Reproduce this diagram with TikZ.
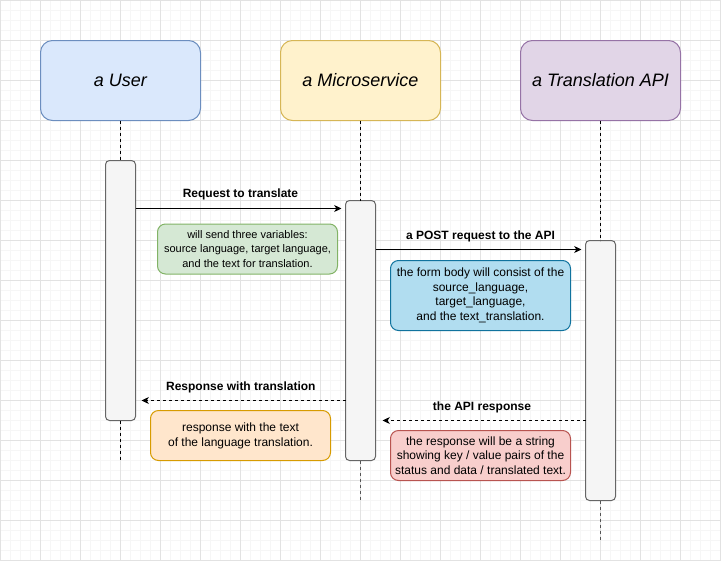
\documentclass[tikz,border=0pt]{standalone}
\usepackage{fontspec}
\setmainfont{Liberation Sans}
\usetikzlibrary{arrows.meta,calc}
\definecolor{gridminor}{HTML}{F6F6F6}
\definecolor{gridmajor}{HTML}{E2E2E2}
\definecolor{ufill}{HTML}{DAE8FC}\definecolor{uline}{HTML}{6C8EBF}
\definecolor{mfill}{HTML}{FFF2CC}\definecolor{mline}{HTML}{D6B656}
\definecolor{afill}{HTML}{E1D5E7}\definecolor{aline}{HTML}{9673A6}
\definecolor{actfill}{HTML}{F5F5F5}\definecolor{actline}{HTML}{666666}
\definecolor{gfill}{HTML}{D5E8D4}\definecolor{gline}{HTML}{82B366}
\definecolor{bfill}{HTML}{B1DDF0}\definecolor{bline}{HTML}{10739E}
\definecolor{ofill}{HTML}{FFE6CC}\definecolor{oline}{HTML}{D79B00}
\definecolor{rfill}{HTML}{F8CECC}\definecolor{rline}{HTML}{B85450}
\definecolor{lowlife}{HTML}{555555}
\tikzset{
  headbox/.style={draw, line width=0.75pt, rounded corners=9pt, minimum width=120pt, minimum height=60pt, inner sep=0pt, outer sep=0pt, font=\fontsize{13.5pt}{16pt}\selectfont\itshape},
  actbox/.style={draw=actline, fill=actfill, line width=0.75pt, rounded corners=3pt, minimum width=22.5pt, minimum height=195pt, inner sep=0pt, outer sep=0pt},
  notebox/.style={draw, line width=0.75pt, rounded corners=6pt, inner sep=0pt, outer sep=0pt, align=center, font=\fontsize{9pt}{10.9pt}\selectfont},
  life/.style={draw=black, line width=0.75pt, dash pattern=on 2.25pt off 2.25pt},
  lifelow/.style={draw=lowlife, line width=0.75pt, dash pattern=on 2.25pt off 2.25pt},
  msg/.style={line width=0.75pt, -{Stealth[length=5.5pt, width=5.2pt, inset=1.6pt]}},
  reply/.style={msg, dash pattern=on 2.25pt off 2.25pt},
  lbl/.style={font=\fontsize{9pt}{11pt}\selectfont\bfseries, inner sep=0pt}
}
\begin{document}
\begin{tikzpicture}[x=0.75pt, y=-0.75pt]
\useasboundingbox (0,0) rectangle (721,561);
\fill[white] (0,0) rectangle (721,561);
% grid
\foreach \i in {0,10,...,720} \draw[gridminor, line width=0.75pt] (\i+0.5,0) -- (\i+0.5,561);
\foreach \j in {0,10,...,560} \draw[gridminor, line width=0.75pt] (0,\j+0.5) -- (721,\j+0.5);
\foreach \i in {0,40,...,720} \draw[gridmajor, line width=0.75pt] (\i+0.5,0) -- (\i+0.5,561);
\foreach \j in {0,40,...,560} \draw[gridmajor, line width=0.75pt] (0,\j+0.5) -- (721,\j+0.5);

% participants
\node[headbox, fill=ufill, draw=uline] (user) at (120.5,80.5) {a User};
\node[headbox, fill=mfill, draw=mline] (ms) at (360.5,80.5) {a Microservice};
\node[headbox, fill=afill, draw=aline] (api) at (600.5,80.5) {a Translation API};

% activations
\node[actbox] (uact) at (120.5,290.5) {};
\node[actbox] (msact) at (360.5,330.5) {};
\node[actbox] (apiact) at (600.5,370.5) {};

\coordinate (uend) at (120.5,460);
\coordinate (msend) at (360.5,500);
\coordinate (apiend) at (600.5,540);

% lifelines
\draw[life] (user.south) -- (uact.north);
\draw[life] (uact.south) -- (uend);
\draw[life] (ms.south) -- (msact.north);
\draw[lifelow] (msact.south) -- (msend);
\draw[life] (api.south) -- (apiact.north);
\draw[lifelow] (apiact.south) -- (apiend);

% messages
\draw[msg] ($(uact.north east)+(0,48)$) -- node[lbl, yshift=10.25pt, xshift=1.5pt] (l1) {Request to translate} ($(msact.north west)+(-4,8)$);
\draw[msg] ($(msact.north east)+(0,49)$) -- node[lbl, yshift=9.5pt, xshift=1.5pt] (l2) {a POST request to the API} ($(apiact.north west)+(-4,9)$);
\draw[reply] ($(msact.north west)+(0,200)$) -- node[lbl, yshift=9.75pt, xshift=-2pt] (l3) {Response with translation} ($(uact.south east)+(6,-20)$);
\draw[reply] ($(apiact.north west)+(0,180)$) -- node[lbl, yshift=9.75pt, xshift=-1.5pt] (l4) {the API response} ($(msact.north east)+(7,220)$);

% notes
\node[notebox, fill=gfill, draw=gline, minimum width=135pt, minimum height=37.5pt, font=\fontsize{8.25pt}{11.1pt}\selectfont] (n1) at (247.5,249) {will send three variables:\\source language, target language,\\and the text for translation.};
\node[notebox, fill=bfill, draw=bline, minimum width=135pt, minimum height=52.5pt] (n2) at (480.5,295.5) {the form body will consist of the\\source\_language,\\target\_language,\\and the text\_translation.};
\node[notebox, fill=ofill, draw=oline, minimum width=135pt, minimum height=37.5pt, font=\fontsize{9pt}{11.2pt}\selectfont] (n3) at (240.5,435.5) {response with the text\\of the language translation.};
\node[notebox, fill=rfill, draw=rline, minimum width=135pt, minimum height=37.5pt] (n4) at (480.5,455.5) {the response will be a string\\showing key / value pairs of the\\status and data / translated text.};
\end{tikzpicture}
\end{document}
